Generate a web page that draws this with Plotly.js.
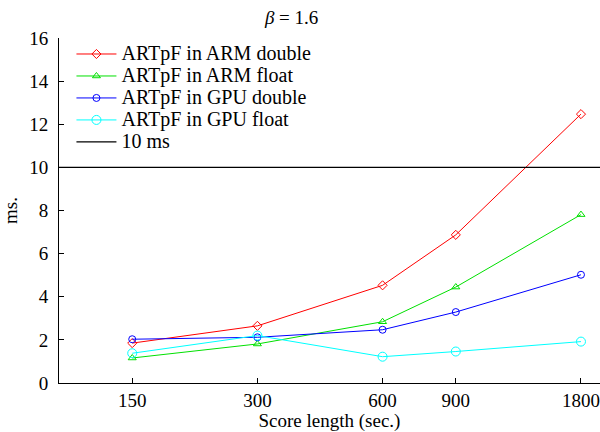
<!DOCTYPE html>
<html>
<head>
<meta charset="utf-8">
<script src="https://cdn.plot.ly/plotly-3.0.1.min.js"></script>
<style>html,body{margin:0;padding:0;background:#fff;}#chart{width:600px;height:432px;}</style>
</head>
<body>
<div id="chart"></div>
<script>
const scoreLengths = [150, 300, 600, 900, 1800];
const tickLabels = ['150', '300', '600', '900', '1800'];
const armDouble = [1.85, 2.65, 4.53, 6.87, 12.47];
const armFloat = [1.16, 1.81, 2.84, 4.45, 7.81];
const gpuDouble = [2.03, 2.12, 2.47, 3.29, 5.02];
const gpuFloat = [1.38, 2.2, 1.22, 1.46, 1.92];
const seriesNames = ['ARTpF in ARM double', 'ARTpF in ARM float', 'ARTpF in GPU double', 'ARTpF in GPU float', '10 ms'];
const thresholdValue = 10;
const xRange = [100, 2000];

const FONT = 'Liberation Serif';

function label(t) { return '<span style="font-size:20px">' + t + '</span>'; }

function series(name, y, color, symbol, size) {
  return {
    x: scoreLengths, y: y, name: label(name), type: 'scatter', mode: 'lines+markers',
    line: {color: color, width: 1},
    marker: {symbol: symbol, size: size, color: color, line: {color: color, width: 1}}
  };
}

const traces = [
  series(seriesNames[0], armDouble, '#ff0000', 'diamond-open', 7),
  series(seriesNames[1], armFloat, '#00e000', 'triangle-up-open', 7),
  series(seriesNames[2], gpuDouble, '#0000ff', 'circle-open', 7),
  series(seriesNames[3], gpuFloat, '#00ffff', 'circle-open', 9),
  {x: xRange, y: [thresholdValue, thresholdValue], name: label(seriesNames[4]), type: 'scatter', mode: 'lines',
   line: {color: '#000000', width: 1.2}, cliponaxis: false}
];

const layout = {
  width: 600, height: 432,
  margin: {l: 59, r: 0, t: 38, b: 49},
  paper_bgcolor: '#fff', plot_bgcolor: '#fff',
  font: {family: FONT, size: 18, color: '#000'},
  title: {text: '<i>β</i> = 1.6', x: 0.486, xref: 'container', xanchor: 'center', y: 0.975, yref: 'container', yanchor: 'top', font: {family: FONT, size: 19}},
  xaxis: {
    type: 'log', range: [Math.log10(xRange[0]), Math.log10(xRange[1])],
    tickmode: 'array', tickvals: scoreLengths, ticktext: tickLabels,
    ticks: 'inside', ticklen: 5, tickcolor: '#000', showline: true, linecolor: '#000', linewidth: 1,
    showgrid: false, zeroline: false, mirror: false,
    tickfont: {family: FONT, size: 19},
    title: {text: 'Score length (sec.)', font: {family: FONT, size: 19}, standoff: 4}
  },
  yaxis: {
    range: [0, 16], dtick: 2, tick0: 0,
    ticks: 'inside', ticklen: 5, tickcolor: '#000', showline: true, linecolor: '#000', linewidth: 1,
    showgrid: false, zeroline: false, mirror: false,
    tickfont: {family: FONT, size: 19}, ticklabelstandoff: 6,
    title: {text: 'ms.', font: {family: FONT, size: 19}, standoff: 8}
  },
  legend: {x: 0.023, y: 1.0, xanchor: 'left', yanchor: 'top', bgcolor: 'rgba(255,255,255,0)', borderwidth: 0,
           font: {family: FONT, size: 14.6}, itemwidth: 40, tracegroupgap: 0},
  showlegend: true
};

Plotly.newPlot('chart', traces, layout, {displayModeBar: false, staticPlot: true});
</script>
</body>
</html>
